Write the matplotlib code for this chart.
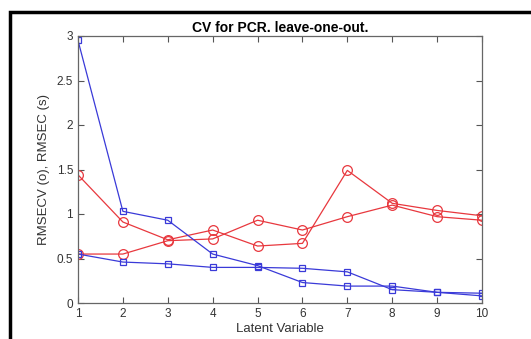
import matplotlib
matplotlib.use("Agg")
import matplotlib.pyplot as plt
from matplotlib.patches import Rectangle

plt.rcParams['font.family'] = ['Liberation Sans', 'DejaVu Sans']

# Number of latent variables
lv = [1, 2, 3, 4, 5, 6, 7, 8, 9, 10]

# RMSECV (circles) for the two runs
rmsecv_a = [1.44, 0.91, 0.71, 0.82, 0.64, 0.67, 1.49, 1.12, 1.04, 0.98]
rmsecv_b = [0.55, 0.55, 0.70, 0.72, 0.93, 0.82, 0.97, 1.10, 0.97, 0.93]

# RMSEC (squares) for the two runs
rmsec_a = [2.95, 1.03, 0.93, 0.55, 0.42, 0.23, 0.19, 0.19, 0.12, 0.11]
rmsec_b = [0.55, 0.46, 0.44, 0.40, 0.40, 0.39, 0.35, 0.15, 0.12, 0.08]

red = '#e8383e'
blue = '#3a3ad8'

fig = plt.figure(figsize=(5.31, 3.39), dpi=100)
ax = fig.add_axes([78 / 531, 1 - 303 / 339, 404 / 531, 267 / 339])

for vals in (rmsecv_a, rmsecv_b):
    ax.plot(lv, vals, color=red, lw=0.9, marker='o', ms=7,
            mfc='none', mec=red, mew=0.9)
for vals in (rmsec_a, rmsec_b):
    ax.plot(lv, vals, color=blue, lw=0.9, marker='s', ms=5,
            mfc='none', mec=blue, mew=0.9)

ax.set_xlim(1, 10)
ax.set_ylim(0, 3)
ax.set_xticks(lv)
ax.set_yticks([0, 0.5, 1, 1.5, 2, 2.5, 3])
ax.set_yticklabels(['0', '0.5', '1', '1.5', '2', '2.5', '3'])
ax.tick_params(direction='in', top=True, right=True, length=4,
               width=0.8, color='#555555', labelsize=8.5, labelcolor='#333333')
for s in ax.spines.values():
    s.set_color('#666666')
    s.set_linewidth(0.9)

ax.set_xlabel('Latent Variable', fontsize=9.5, color='#333333', labelpad=2)
ax.set_ylabel('RMSECV (o), RMSEC (s)', fontsize=9.5, color='#333333', labelpad=5)
ax.set_title('CV for PCR. leave-one-out.', fontsize=10, fontweight='bold',
             pad=3)

# black frame around the figure
fig.add_artist(Rectangle((10 / 531, -0.2), 1.2, 1.2 - 12 / 339 + 0.001,
                         transform=fig.transFigure, fill=False,
                         edgecolor='black', lw=2.5))

fig.savefig('out.png', dpi=100)
